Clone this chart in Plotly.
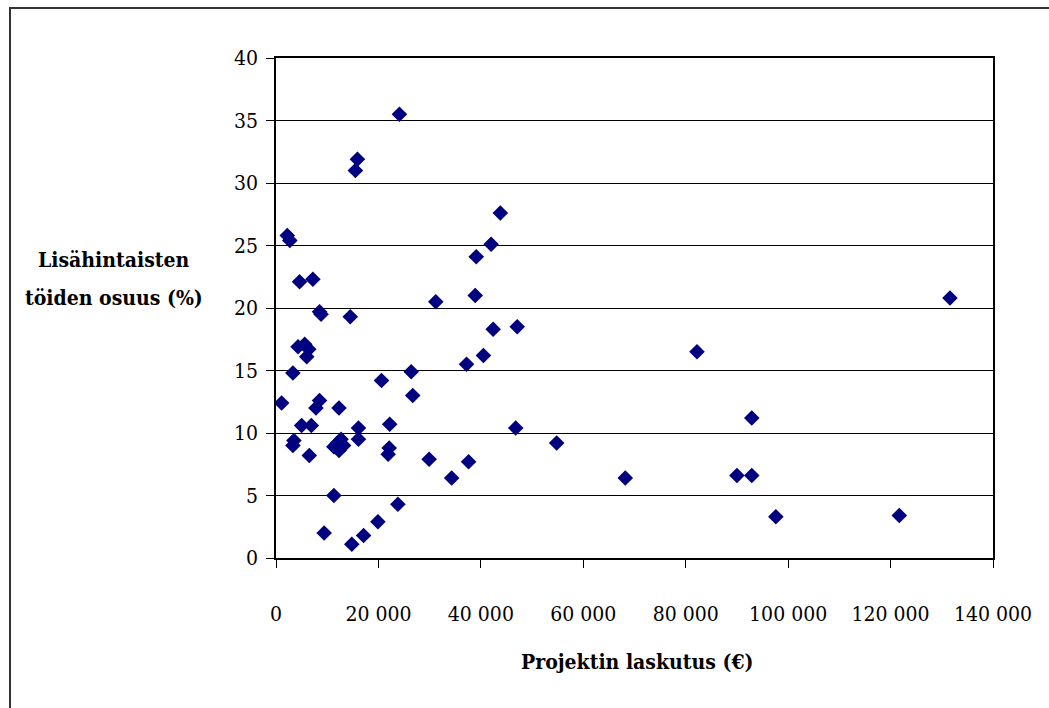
import plotly.graph_objects as go

# Data: project invoicing (€) and share of extra-priced work (%)
laskutus = [1100, 2200, 2700, 3300, 3300, 3500, 4300, 4600, 5000, 5600,
            6000, 6400, 6500, 6900, 7200, 7800, 8500, 8500, 8800, 9400,
            11300, 11300, 12000, 12300, 12300, 12700, 13200, 14500, 14800, 15500,
            15900, 16100, 16100, 17100, 19900, 20600, 21900, 22100, 22200, 23800,
            24100, 26400, 26700, 29900, 31200, 34300, 37200, 37600, 38900, 39100,
            40500, 42000, 42400, 43800, 46800, 47100, 54800, 68200, 82200, 90000,
            92900, 92900, 97600, 121700, 131600]
osuus = [12.4, 25.8, 25.4, 14.8, 9.0, 9.4, 16.9, 22.1, 10.6, 17.1,
         16.1, 16.7, 8.2, 10.6, 22.3, 12.0, 12.6, 19.7, 19.5, 2.0,
         8.9, 5.0, 9.2, 12.0, 8.6, 9.5, 9.0, 19.3, 1.1, 31.0,
         31.9, 10.4, 9.5, 1.8, 2.9, 14.2, 8.3, 8.8, 10.7, 4.3,
         35.5, 14.9, 13.0, 7.9, 20.5, 6.4, 15.5, 7.7, 21.0, 24.1,
         16.2, 25.1, 18.3, 27.6, 10.4, 18.5, 9.2, 6.4, 16.5, 6.6,
         6.6, 11.2, 3.3, 3.4, 20.8]

x_tickvals = [0, 20000, 40000, 60000, 80000, 100000, 120000, 140000]
x_ticktext = ["0", "20 000", "40 000", "60 000", "80 000", "100 000", "120 000", "140 000"]
y_tickvals = [0, 5, 10, 15, 20, 25, 30, 35, 40]

x_title = "Projektin laskutus (€)"
y_title_lines = ["Lisähintaisten", "töiden osuus (%)"]

FONT = "DejaVu Serif Condensed"

fig = go.Figure()
fig.add_trace(go.Scatter(
    x=laskutus, y=osuus, mode="markers",
    marker=dict(symbol="diamond", size=12, color="#000080", line=dict(width=0)),
    showlegend=False, hoverinfo="x+y"))

fig.update_layout(
    width=1049, height=708,
    margin=dict(l=276, r=56, t=58, b=150),
    paper_bgcolor="white", plot_bgcolor="white",
    font=dict(family=FONT, size=21, color="black"),
    xaxis=dict(range=[0, 140000], tickvals=x_tickvals, ticktext=x_ticktext,
               showgrid=False, zeroline=False,
               showline=True, linecolor="black", linewidth=1.5, mirror=True,
               ticks="outside", ticklen=8, tickcolor="black", tickwidth=1,
               ticklabelstandoff=28,
               tickfont=dict(family=FONT, size=21, color="black")),
    yaxis=dict(range=[0, 40], tickvals=y_tickvals,
               showgrid=True, gridcolor="black", gridwidth=1, zeroline=False,
               showline=True, linecolor="black", linewidth=1.5, mirror=True,
               ticks="outside", ticklen=8, tickcolor="black", tickwidth=1,
               ticklabelstandoff=4,
               tickfont=dict(family=FONT, size=21, color="black")),
)

# outer chart border (left and top visible)
fig.add_shape(type="rect", xref="paper", yref="paper",
              x0=(10 - 276) / 717, x1=(1070 - 276) / 717,
              y0=(558 - 730) / 500, y1=(558 - 8) / 500,
              line=dict(color="#333333", width=2), fillcolor="rgba(0,0,0,0)")

# axis titles
fig.add_annotation(text="<b>%s</b>" % x_title, xref="paper", yref="paper",
                   x=(637 - 276) / 717, y=(558 - 661) / 500,
                   xanchor="center", yanchor="middle", showarrow=False,
                   font=dict(family=FONT, size=21, color="black"))
for line, ypx in zip(y_title_lines, [259, 297]):
    fig.add_annotation(text="<b>%s</b>" % line, xref="paper", yref="paper",
                       x=(114 - 276) / 717, y=(558 - ypx) / 500,
                       xanchor="center", yanchor="middle", showarrow=False,
                       font=dict(family=FONT, size=21, color="black"))

fig.write_html("out.html")
